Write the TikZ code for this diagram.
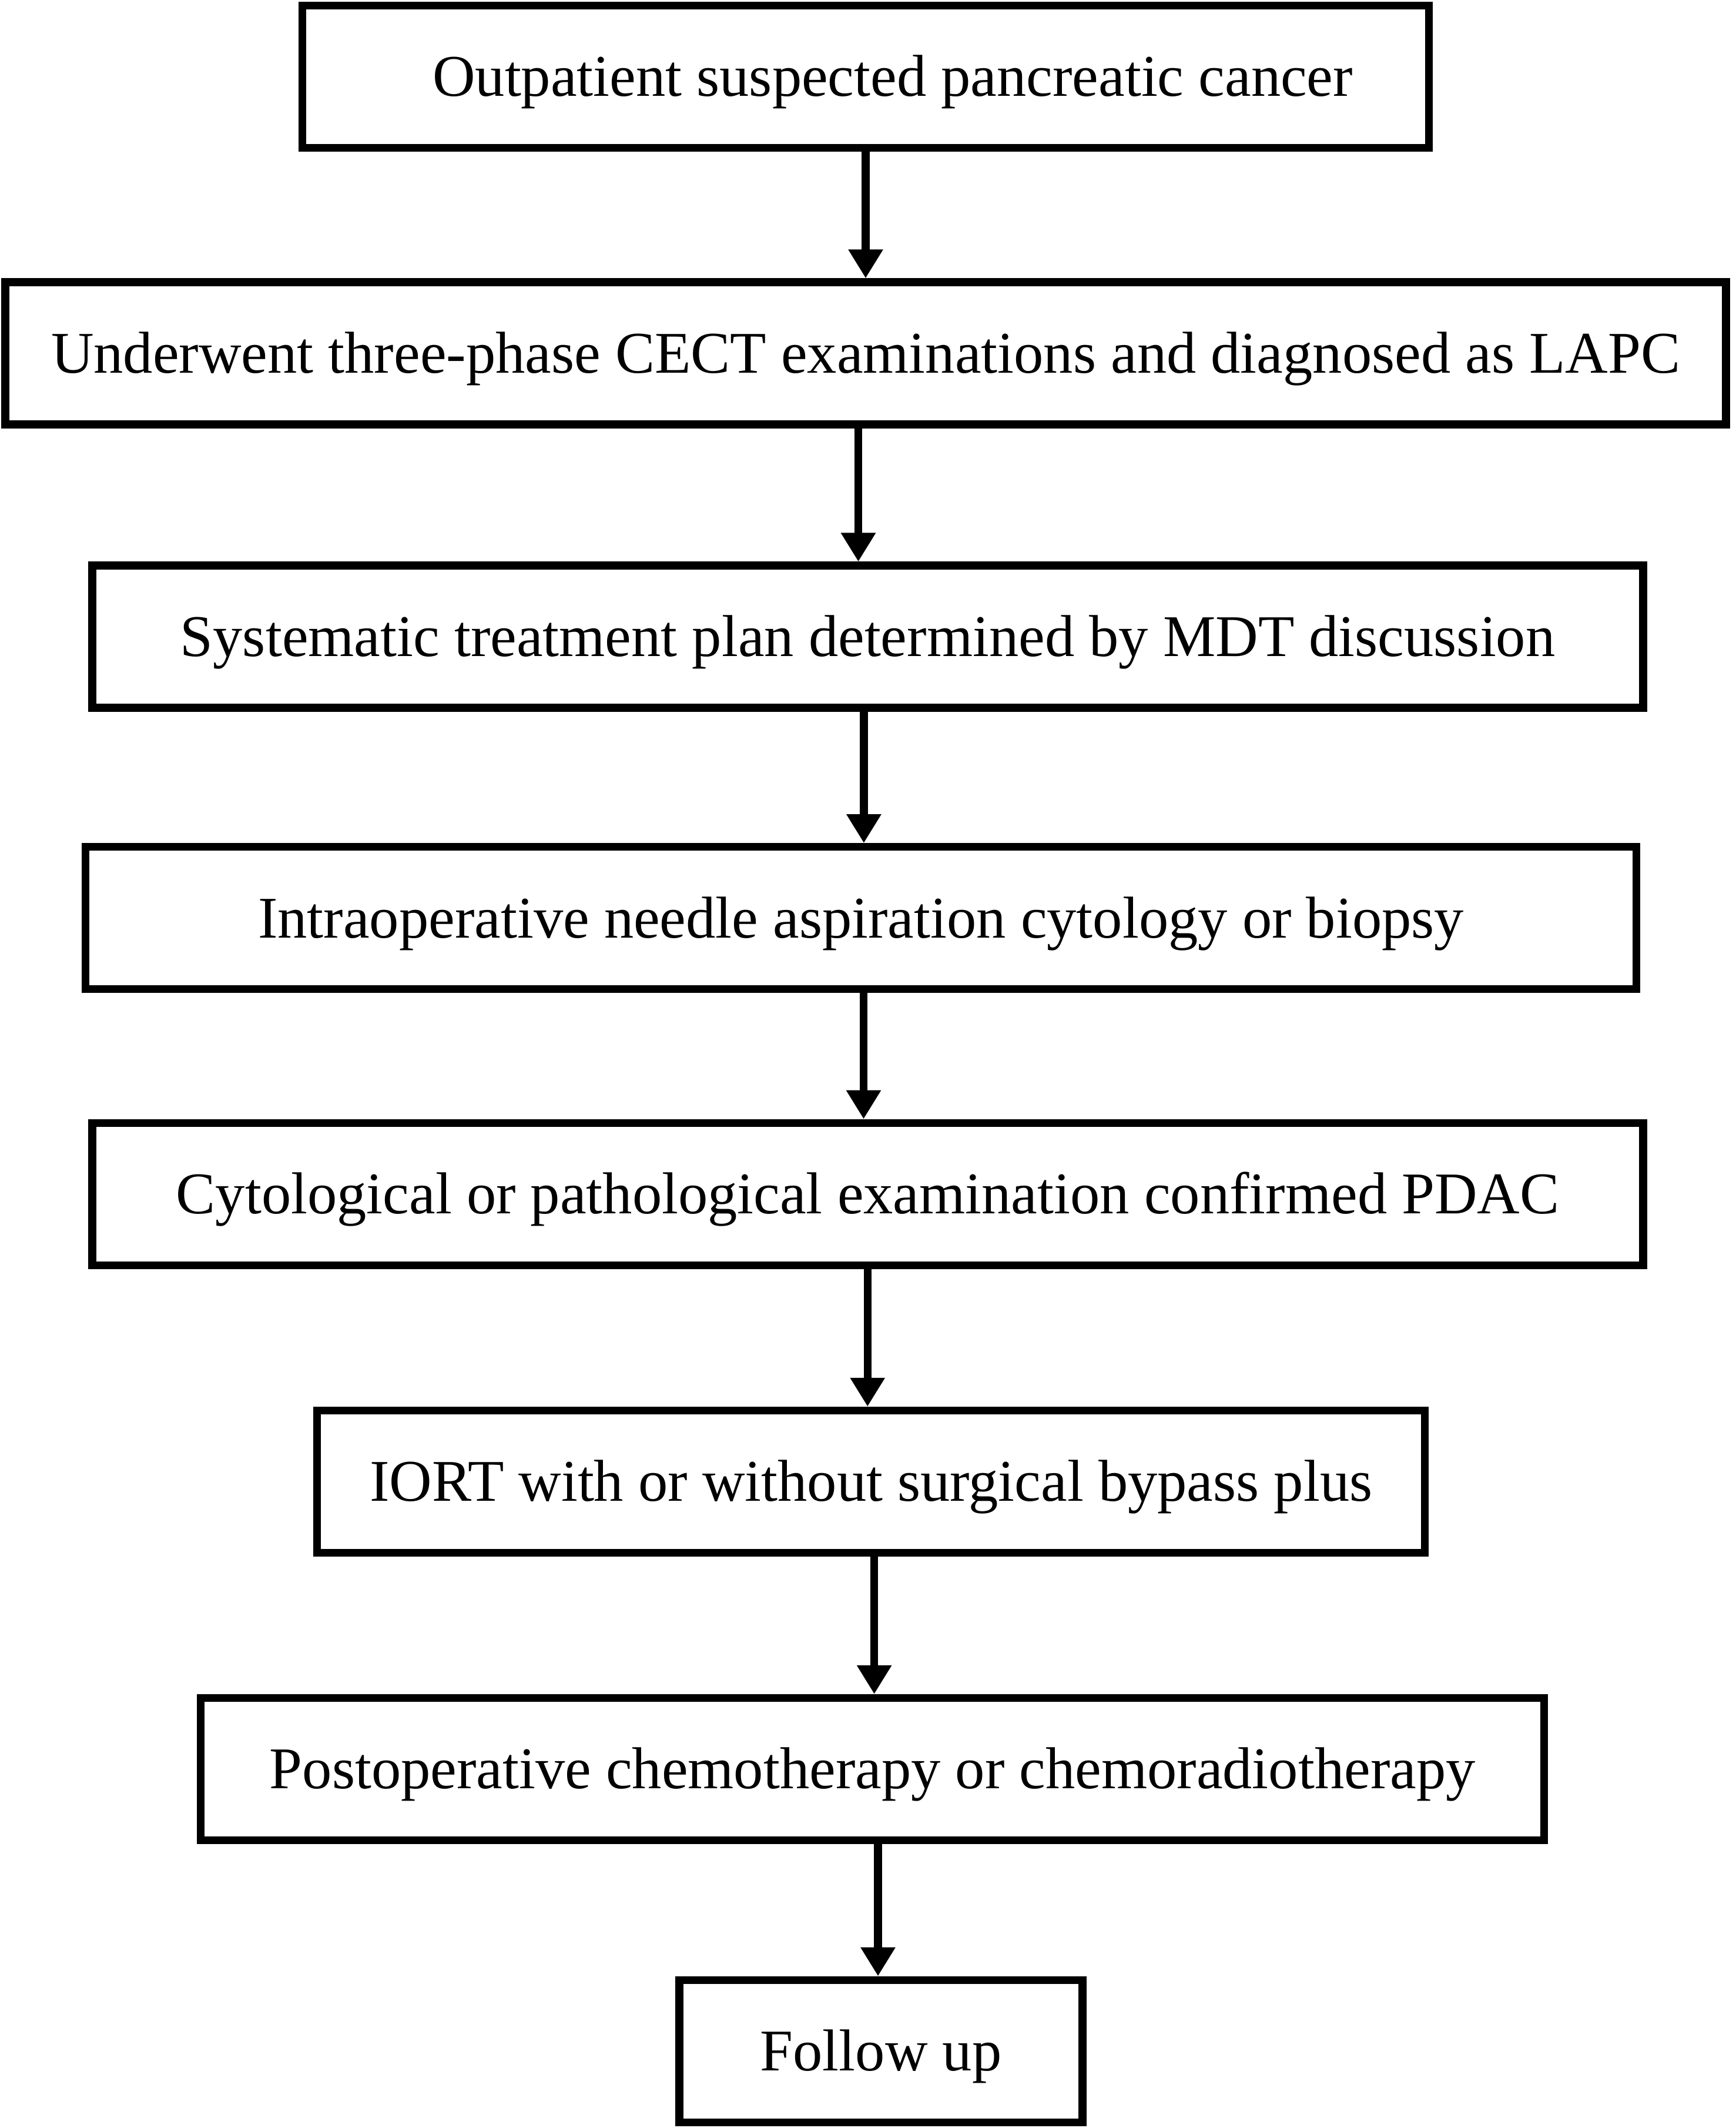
\documentclass[tikz,border=0pt]{standalone}
\usepackage{fontspec}
\setmainfont{Liberation Serif}
\usepackage{tikz}
\usetikzlibrary{arrows.meta, positioning, calc}

\begin{document}
\begin{tikzpicture}[
    flowbox/.style={rectangle, draw=black, line width=3.8pt, minimum height=2.42cm, inner sep=0pt, text height=19pt, text depth=0pt, font=\fontsize{28.6}{34}\selectfont},
    arrow/.style={-{Triangle[width=0.56cm, length=0.49cm]}, line width=3.8pt, draw=black}
]
\useasboundingbox (0,0) rectangle (29.53,-36.20);

\node[flowbox, minimum width=19.17cm] (outpatient) at (14.73,-1.303) {\hspace*{0.92cm}Outpatient suspected pancreatic cancer};
\node[flowbox, minimum width=29.28cm] (cect) at (14.73,-6.010) {Underwent three-phase CECT examinations and diagnosed as LAPC};
\node[flowbox, minimum width=26.39cm] (mdt) at (14.765,-10.831) {Systematic treatment plan determined by MDT discussion};
\node[flowbox, minimum width=26.39cm] (biopsy) at (14.649,-15.618) {Intraoperative needle aspiration cytology or biopsy};
\node[flowbox, minimum width=26.39cm] (pdac) at (14.765,-20.313) {Cytological or pathological examination confirmed PDAC};
\node[flowbox, minimum width=18.85cm] (iort) at (14.822,-25.204) {IORT with or without surgical bypass plus};
\node[flowbox, minimum width=22.86cm] (postop) at (14.846,-30.095) {Postoperative chemotherapy or chemoradiotherapy};
\node[flowbox, minimum width=6.86cm] (follow) at (14.99,-34.893) {Follow up};

\draw[arrow] (outpatient.south -| cect.north) -- (cect.north);
\draw[arrow] ([xshift=-0.16cm]cect.south -| mdt.north) -- ([xshift=-0.16cm]mdt.north);
\draw[arrow] ([xshift=0.05cm]mdt.south -| biopsy.north) -- ([xshift=0.05cm]biopsy.north);
\draw[arrow] ([xshift=-0.07cm]biopsy.south -| pdac.north) -- ([xshift=-0.07cm]pdac.north);
\draw[arrow] ([xshift=-0.06cm]pdac.south -| iort.north) -- ([xshift=-0.06cm]iort.north);
\draw[arrow] ([xshift=0.03cm]iort.south -| postop.north) -- ([xshift=0.03cm]postop.north);
\draw[arrow] ([xshift=-0.05cm]postop.south -| follow.north) -- ([xshift=-0.05cm]follow.north);

\end{tikzpicture}
\end{document}
